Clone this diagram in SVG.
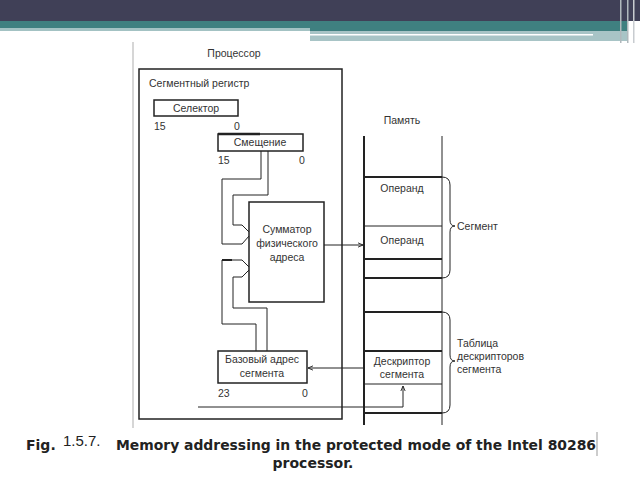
<svg xmlns="http://www.w3.org/2000/svg" width="640" height="480" viewBox="0 0 640 480">
<style>
.t{font-family:"Liberation Sans",Arial,sans-serif;font-size:10.5px;fill:#333}
.c{text-anchor:middle}
.box{fill:#fff;stroke:#222;stroke-width:1.5}
.w{fill:none;stroke:#222;stroke-width:1}
.mem{fill:none;stroke:#222;stroke-width:2}
.cap{font-family:"DejaVu Sans","Liberation Sans",sans-serif;font-weight:bold;font-size:14px;fill:#222}
</style>
<defs>
<marker id="ah" viewBox="0 0 8 8" refX="7" refY="4" markerWidth="6" markerHeight="6" orient="auto" markerUnits="userSpaceOnUse">
<path d="M0,1 L7,4 L0,7" fill="none" stroke="#222" stroke-width="1.2"/>
</marker>
</defs>
<rect width="640" height="480" fill="#fff"/>
<g id="banner">
<rect x="0" y="0" width="640" height="21" fill="#404057"/>
<rect x="0" y="21" width="628" height="10" fill="#3f8080"/>
<rect x="0" y="28" width="310" height="3" fill="#a3c2c3"/>
<rect x="310" y="31" width="318" height="10" fill="#a8c4c6"/>
<rect x="310" y="34" width="283" height="1.5" fill="#fff"/>
<rect x="620" y="0" width="1.5" height="43" fill="#b0b8bc"/>
<rect x="627" y="0" width="1.5" height="43" fill="#b0b8bc"/>
<rect x="633" y="0" width="1.5" height="43" fill="#c8ccd0"/>
</g>
<line x1="133" y1="42" x2="133" y2="428" stroke="#c8c8c8" stroke-width="1.5"/>
<g id="processor">
<rect class="box" x="139" y="69" width="203" height="350" fill="none"/>
<text class="t c" x="234" y="57">Процессор</text>
<text class="t" x="149" y="87">Сегментный регистр</text>
</g>
<g id="selector">
<rect class="box" x="154" y="100" width="84" height="16"/>
<text class="t c" x="196" y="112">Селектор</text>
<text class="t" x="154" y="130">15</text>
<text class="t" x="234" y="130">0</text>
</g>
<g id="offset">
<rect class="box" x="218" y="134" width="85" height="17"/>
<line x1="218" y1="134" x2="260" y2="134" stroke="#222" stroke-width="2.5"/>
<text class="t c" x="260" y="146">Смещение</text>
<text class="t" x="218" y="164">15</text>
<text class="t" x="299" y="164">0</text>
</g>
<g id="adder">
<rect class="box" x="249" y="202" width="75" height="100"/>
<text class="t c" x="287" y="233">Сумматор</text>
<text class="t c" x="287" y="247">физического</text>
<text class="t c" x="287" y="261">адреса</text>
</g>
<g id="base">
<rect class="box" x="218" y="351" width="89" height="32"/>
<text class="t c" x="262" y="363">Базовый адрес</text>
<text class="t c" x="262" y="377">сегмента</text>
<text class="t" x="218" y="397">23</text>
<text class="t" x="302" y="397">0</text>
</g>
<g id="memory">
<text class="t c" x="402" y="124">Память</text>
<line x1="364" y1="136" x2="364" y2="425" stroke="#222" stroke-width="2"/>
<line x1="442" y1="136" x2="442" y2="425" stroke="#222" stroke-width="1"/>
<line class="mem" x1="364" y1="177" x2="442" y2="177"/>
<line class="w" x1="364" y1="226" x2="442" y2="226"/>
<line class="mem" x1="364" y1="259" x2="442" y2="259"/>
<line class="mem" x1="364" y1="278" x2="442" y2="278"/>
<line class="mem" x1="364" y1="312" x2="442" y2="312"/>
<line class="mem" x1="364" y1="351" x2="442" y2="351"/>
<line class="w" x1="364" y1="384" x2="442" y2="384" stroke-width="1.5"/>
<line class="mem" x1="364" y1="413" x2="442" y2="413"/>
<text class="t c" x="402" y="192">Операнд</text>
<text class="t c" x="402" y="244">Операнд</text>
<text class="t c" x="402" y="365">Дескриптор</text>
<text class="t c" x="402" y="378">сегмента</text>
<path class="w" d="M442,177 Q450,177 450,185 L450,220 Q450,226 455,226 Q450,226 450,232 L450,270 Q450,278 442,278"/>
<text class="t" x="457" y="230">Сегмент</text>
<path class="w" d="M442,312 Q450,312 450,320 L450,355 Q450,361 455,361 Q450,361 450,367 L450,405 Q450,413 442,413"/>
<text class="t" x="457" y="347">Таблица</text>
<text class="t" x="457" y="360">дескрипторов</text>
<text class="t" x="457" y="373">сегмента</text>
</g>
<g id="connectors">
<path class="w" d="M261,151 V179 H222 V244 H242 L249,236"/>
<path class="w" d="M268,151 V195 H233 V225 H242 L249,232"/>
<path class="w" d="M256,351 V324 H222 V260 H242 L249,267"/>
<line x1="222" y1="260" x2="232" y2="260" stroke="#222" stroke-width="2"/>
<path class="w" d="M267,351 V308 H233 V277 H242 L249,270"/>
<line class="w" x1="324" y1="245" x2="363" y2="245" marker-end="url(#ah)"/>
<line class="w" x1="364" y1="368" x2="308" y2="368" marker-end="url(#ah)"/>
<path class="w" d="M198,407 H403 V386" marker-end="url(#ah)"/>
</g>
<g id="caption">
<text class="cap" x="26" y="450">Fig.</text>
<text x="63" y="446" font-family="'Liberation Sans',sans-serif" font-size="15" fill="#222">1.5.7.</text>
<text class="cap" x="116" y="450" textLength="480" lengthAdjust="spacingAndGlyphs">Memory addressing in the protected mode of the Intel 80286</text>
<text class="cap" x="313" y="468" text-anchor="middle">processor.</text>
<line x1="597" y1="432" x2="597" y2="456" stroke="#999" stroke-width="1"/>
</g>
</svg>
